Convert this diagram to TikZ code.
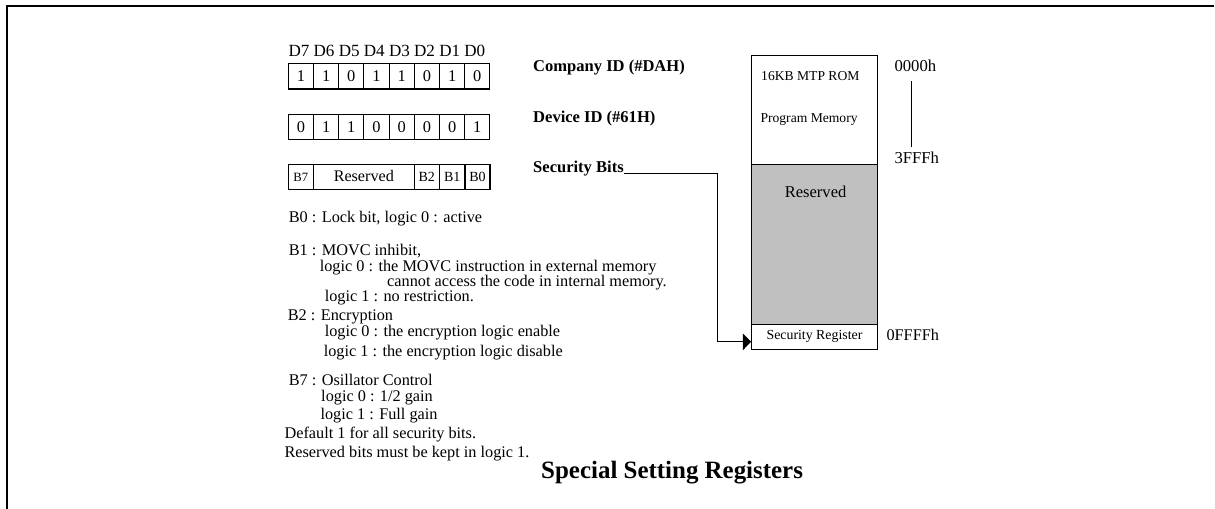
\documentclass[tikz,border=0pt]{standalone}
\usepackage{fontspec}
\setmainfont{Liberation Serif}
\usetikzlibrary{arrows.meta,calc}
\definecolor{resgray}{RGB}{192,192,192}
\newcommand{\fsz}[1]{\fontsize{#1}{#1}\selectfont}

\begin{document}
\begin{tikzpicture}[x=0.75pt, y=-0.75pt, line width=0.8pt,
    bit/.style={draw, minimum width=18.9pt, minimum height=19.1pt, inner sep=0pt, font=\fsz{12.3pt}},
    txt/.style={anchor=base west, inner sep=0pt, font=\fsz{12.2pt}},
    hd/.style={anchor=base west, inner sep=0pt, font=\fsz{12.4pt}\bfseries},
    mem/.style={draw, minimum width=94.2pt, inner sep=0pt},
    memtxt/.style={anchor=base west, inner sep=0pt, font=\fsz{10.2pt}}]
    \useasboundingbox (0,0) rectangle (1215,509);
    \draw[line width=1.7pt] (7,509) -- (7,6) -- (1214,6);

    % bit header and ID bytes
    \node[txt, font=\fsz{12.8pt}] (dhead) at (288,56.4) {D7 D6 D5 D4 D3 D2 D1 D0};
    \path (300.9,76.3) node[bit] (cid7) {1}
    ++(25.2,0) node[bit] (cid6) {1}
    ++(25.2,0) node[bit] (cid5) {0}
    ++(25.2,0) node[bit] (cid4) {1}
    ++(25.2,0) node[bit] (cid3) {1}
    ++(25.2,0) node[bit] (cid2) {0}
    ++(25.2,0) node[bit] (cid1) {1}
    ++(25.2,0) node[bit] (cid0) {0};
    \path (300.9,126.8) node[bit] (did7) {0}
    ++(25.2,0) node[bit] (did6) {1}
    ++(25.2,0) node[bit] (did5) {1}
    ++(25.2,0) node[bit] (did4) {0}
    ++(25.2,0) node[bit] (did3) {0}
    ++(25.2,0) node[bit] (did2) {0}
    ++(25.2,0) node[bit] (did1) {0}
    ++(25.2,0) node[bit] (did0) {1};
    \path (300.8,177.2) node[bit, minimum width=18.75pt, font=\fsz{9.5pt}] (sb7) {\raisebox{-2pt}{B7}}
    ++(63,0) node[bit, minimum width=75.75pt, font=\fsz{12.1pt}] (sbres) {\raisebox{2pt}{Reserved}}
    ++(63,0) node[bit, minimum width=18.75pt, font=\fsz{10.5pt}] (sb2) {B2}
    ++(25.4,0) node[bit, minimum width=19.2pt, font=\fsz{10.5pt}] (sb1) {B1}
    ++(25.3,0) node[bit, minimum width=18.75pt, font=\fsz{10.5pt}] (sb0) {B0};

    \node[hd] (cidname) at (532.7,71.5) {Company ID (\#DAH)};
    \node[hd] (didname) at (532.7,122.5) {Device ID (\#61H)};
    \node[hd] (secbits) at (532.7,172.5) {Security Bits};

    % security bit notes
    \node[txt] (b0txt) at (288.3,223) {B0 : Lock bit, logic 0 : active};
    \node[txt] (b1txt) at (288.3,256) {B1 : MOVC inhibit,};
    \node[txt] (b1lo) at (319.3,271.5) {logic 0 : the MOVC instruction in external memory};
    \node[txt] (b1lob) at (386.7,286.5) {cannot access the code in internal memory.};
    \node[txt] (b1hi) at (324.3,301.5) {logic 1 : no restriction.};
    \node[txt] (b2txt) at (287.3,321) {B2 : Encryption};
    \node[txt] (b2lo) at (324.3,337) {logic 0 : the encryption logic enable};
    \node[txt] (b2hi) at (323.3,356.5) {logic 1 : the encryption logic disable};
    \node[txt] (b7txt) at (288.3,385.5) {B7 : Osillator Control};
    \node[txt] (b7lo) at (320.7,401.5) {logic 0 : 1/2 gain};
    \node[txt] (b7hi) at (320,419.5) {logic 1 : Full gain};
    \node[txt] (deftxt) at (284,438.5) {Default 1 for all security bits.};
    \node[txt] (rsvtxt) at (284,457.5) {Reserved bits must be kept in logic 1.};

    \node[anchor=base west, inner sep=0pt, font=\fsz{18.7pt}\bfseries] (title) at (540.7,478.5) {Special Setting Registers};

    % memory map
    \node[mem, minimum height=81.45pt] (rom) at (814.5,110) {};
    \node[mem, minimum height=120pt, fill=resgray] (resv) at (814.5,244.3) {};
    \node[mem, minimum height=18.75pt, font=\fsz{10.4pt}] (secreg) at (814.5,336.8) {Security Register};
    \node[memtxt] (romname) at (760.7,80.5) {16KB MTP ROM};
    \node[memtxt] (romuse) at (760,122.3) {Program Memory};
    \node[txt, font=\fsz{12.4pt}] (resvname) at (784.3,197.3) {Reserved};

    \node[txt, font=\fsz{12.5pt}] (zero) at (894,71.6) {0000h};
    \node[txt, font=\fsz{12.5pt}] (threef) at (894,164) {3FFFh};
    \node[txt, font=\fsz{12.2pt}] (topaddr) at (886,340.7) {0FFFFh};
    \draw ($(zero.south)+(-4.3,9)$) -- ($(zero.south |- threef.north)+(-4.3,-4.4)$);

    \draw[-{Triangle[length=6.3pt, width=12.5pt]}] ([yshift=-1.1pt]secbits.base east) -- ++(93,0) |- ($(secreg.west)+(0,5)$);
\end{tikzpicture}
\end{document}
